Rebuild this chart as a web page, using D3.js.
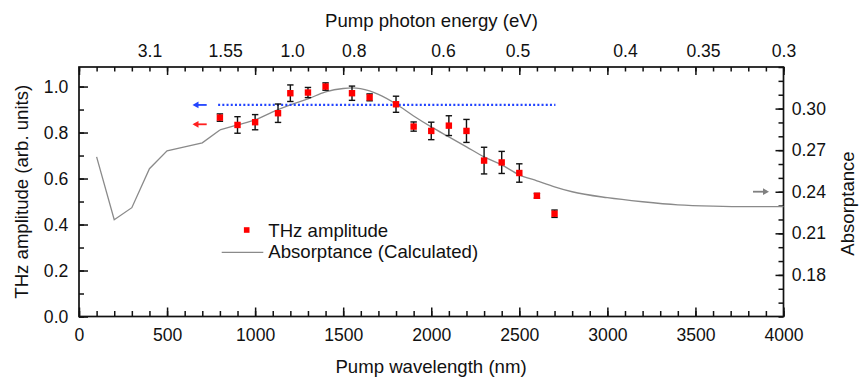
<!DOCTYPE html>
<html>
<head>
<meta charset="utf-8">
<script src="https://cdn.jsdelivr.net/npm/d3@7"></script>
<style>
  html, body { margin: 0; padding: 0; background: #fff; }
  svg { display: block; font-family: "Liberation Sans", Arial, sans-serif; }
  .tick text { fill: #111; }
</style>
</head>
<body>
<svg id="chart" width="859" height="377"></svg>
<script>
// THz amplitude measurements (left axis) with error bars
const wavelengths = [800, 900, 1000, 1130, 1200, 1300, 1400, 1550, 1650, 1800, 1900, 2000, 2100, 2200, 2300, 2400, 2500, 2600, 2700];
const amplitude   = [0.865, 0.833, 0.845, 0.884, 0.971, 0.974, 1.0, 0.971, 0.953, 0.923, 0.826, 0.807, 0.830, 0.807, 0.678, 0.670, 0.624, 0.525, 0.447];
const amplitudeErr = [0.016, 0.036, 0.033, 0.040, 0.036, 0.022, 0.016, 0.031, 0.015, 0.035, 0.020, 0.038, 0.043, 0.050, 0.058, 0.048, 0.040, 0.010, 0.016];

// Calculated absorptance (right axis)
const absWavelengths = [100, 200, 300, 400, 500, 600, 700, 800, 900, 1000, 1100, 1200, 1300, 1400, 1500, 1550, 1650, 1700, 1800, 1900, 2000, 2100, 2200, 2300, 2400, 2500, 2600, 2700, 2800, 3000, 3200, 3400, 3600, 3800, 4000];
const absorptance    = [0.2652, 0.2198, 0.2285, 0.2566, 0.2695, 0.2724, 0.2753, 0.2846, 0.2882, 0.2918, 0.2976, 0.3026, 0.3070, 0.3120, 0.3145, 0.3149, 0.3127, 0.3102, 0.3033, 0.2947, 0.2868, 0.2796, 0.2724, 0.2652, 0.2594, 0.2522, 0.2479, 0.2436, 0.2400, 0.2357, 0.2328, 0.2306, 0.2296, 0.2292, 0.2292];
// Short-wavelength part is drawn as straight segments, the rest smoothed
const absSmoothFrom = 800;

// Reference level (dotted blue) on the left axis
const refLevel = 0.92;
const refRange = [790, 2705];

// Axis ticks and labels
const xMajorTicks = [0, 500, 1000, 1500, 2000, 2500, 3000, 3500, 4000];
const xMinorTicks = d3.range(0, 4001, 100);
const yLeftMajor = [0, 0.2, 0.4, 0.6, 0.8, 1.0];
const yLeftMinor = d3.range(0, 1.09, 0.1);
const yRightMajor = [0.18, 0.21, 0.24, 0.27, 0.30];
const yRightMinor = d3.range(0.15, 0.3301, 0.01);
const energyLabels = ["3.1", "1.55", "1.0", "0.8", "0.6", "0.5", "0.4", "0.35", "0.3"];
const energyLabelWavelengths = [400, 830, 1210, 1560, 2067, 2490, 3100, 3543, 4000];

const svg = d3.select("#chart");
const L = 79, R = 783.5, T = 67, B = 316.5;

const x = d3.scaleLinear().domain([0, 4000]).range([L, R]);
const yL = d3.scaleLinear().domain([0, 1.085]).range([B, T]);
const yR = d3.scaleLinear().domain([0.15, 0.33]).range([B, T]);

const tickFont = "17.6px";
const titleFont = "18.6px";

function styleAxis(g) {
  g.select(".domain").remove();
  g.selectAll(".tick line").attr("stroke", "#111").attr("stroke-width", 1.5);
  g.selectAll(".tick text").style("font-size", tickFont);
}

// Bottom axis
svg.append("g").attr("transform", `translate(0,${B})`)
  .call(d3.axisBottom(x).tickValues(xMinorTicks).tickFormat("").tickSize(-5.5).tickSizeOuter(0)).call(styleAxis);
svg.append("g").attr("transform", `translate(0,${B})`)
  .call(d3.axisBottom(x).tickValues(xMajorTicks).tickFormat(d3.format("d")).tickSize(-9).tickPadding(12.5).tickSizeOuter(0)).call(styleAxis);

// Top axis: ticks mirror the wavelength axis, labels give photon energy
svg.append("g").attr("transform", `translate(0,${T})`)
  .call(d3.axisTop(x).tickValues(xMinorTicks).tickFormat("").tickSize(-4.5).tickSizeOuter(0)).call(styleAxis);
svg.append("g").attr("transform", `translate(0,${T})`)
  .call(d3.axisTop(x).tickValues(xMajorTicks).tickFormat("").tickSize(-8).tickSizeOuter(0)).call(styleAxis);
svg.append("g").attr("transform", `translate(0,${T})`)
  .call(d3.axisTop(x).tickValues(energyLabelWavelengths)
    .tickFormat((d, i) => energyLabels[i]).tickSize(0).tickPadding(9.7).tickSizeOuter(0))
  .call(styleAxis);

// Left axis
svg.append("g").attr("transform", `translate(${L},0)`)
  .call(d3.axisLeft(yL).tickValues(yLeftMinor).tickFormat("").tickSize(-5).tickSizeOuter(0)).call(styleAxis);
svg.append("g").attr("transform", `translate(${L},0)`)
  .call(d3.axisLeft(yL).tickValues(yLeftMajor).tickFormat(d3.format(".1f")).tickSize(-9).tickPadding(10.7).tickSizeOuter(0)).call(styleAxis);

// Right axis
svg.append("g").attr("transform", `translate(${R},0)`)
  .call(d3.axisRight(yR).tickValues(yRightMinor).tickFormat("").tickSize(-5).tickSizeOuter(0)).call(styleAxis);
svg.append("g").attr("transform", `translate(${R},0)`)
  .call(d3.axisRight(yR).tickValues(yRightMajor).tickFormat(d3.format(".2f")).tickSize(-8).tickPadding(8.2).tickSizeOuter(0)).call(styleAxis);

// Frame
svg.append("rect").attr("x", L).attr("y", T).attr("width", R - L).attr("height", B - T)
  .attr("fill", "none").attr("stroke", "#111").attr("stroke-width", 1.7);

// Absorptance curve
const absData = absWavelengths.map((w, i) => [w, absorptance[i]]);
const absLine = d3.line().x(d => x(d[0])).y(d => yR(d[1]));
const absG = svg.append("g").attr("fill", "none").attr("stroke", "#8a8a8a").attr("stroke-width", 1.3);
absG.append("path").datum(absData.filter(d => d[0] <= absSmoothFrom))
  .attr("d", absLine.curve(d3.curveLinear));
absG.append("path").datum(absData.filter(d => d[0] >= absSmoothFrom))
  .attr("d", absLine.curve(d3.curveMonotoneX));

// Dotted reference line
svg.append("line")
  .attr("x1", x(refRange[0])).attr("x2", x(refRange[1]))
  .attr("y1", yL(refLevel)).attr("y2", yL(refLevel))
  .attr("stroke", "#2244ff").attr("stroke-width", 2.2).attr("stroke-dasharray", "2,2.2");

// Error bars
const pts = wavelengths.map((w, i) => ({ w, v: amplitude[i], e: amplitudeErr[i] }));
const eb = svg.append("g").attr("stroke", "#111").attr("stroke-width", 1.4);
pts.forEach(p => {
  const cx = x(p.w), y1 = yL(p.v + p.e), y2 = yL(p.v - p.e);
  eb.append("line").attr("x1", cx).attr("x2", cx).attr("y1", y1).attr("y2", y2);
  eb.append("line").attr("x1", cx - 3.2).attr("x2", cx + 3.2).attr("y1", y1).attr("y2", y1);
  eb.append("line").attr("x1", cx - 3.2).attr("x2", cx + 3.2).attr("y1", y2).attr("y2", y2);
});

// THz amplitude markers
const sq = 6.4;
svg.append("g").selectAll("rect").data(pts).join("rect")
  .attr("x", d => x(d.w) - sq / 2).attr("y", d => yL(d.v) - sq / 2)
  .attr("width", sq).attr("height", sq).attr("fill", "#ff0000");

// Axis-indicator arrows
function arrow(x1, x2, y, color) {
  const dir = Math.sign(x2 - x1);
  svg.append("line").attr("x1", x1).attr("x2", x2 - dir * 2).attr("y1", y).attr("y2", y)
    .attr("stroke", color).attr("stroke-width", 1.8);
  svg.append("path")
    .attr("d", `M${x2},${y} L${x2 - dir * 6},${y - 3.4} L${x2 - dir * 6},${y + 3.4} Z`)
    .attr("fill", color);
}
arrow(206.7, 192.5, yL(refLevel), "#2244ff");
arrow(206.7, 192.5, 124.3, "#ff2020");
arrow(753, 769, 191.7, "#808080");

// Legend
const lg = svg.append("g").style("font-size", titleFont).attr("fill", "#111");
lg.append("rect").attr("x", 246.7 - 2.8).attr("y", 230 - 2.8).attr("width", 5.6).attr("height", 5.6).attr("fill", "#ff0000");
lg.append("text").attr("x", 268.3).attr("y", 236.7).text("THz amplitude");
lg.append("line").attr("x1", 221.7).attr("x2", 263.3).attr("y1", 252.3).attr("y2", 252.3)
  .attr("stroke", "#8a8a8a").attr("stroke-width", 1.3);
lg.append("text").attr("x", 268.3).attr("y", 258).text("Absorptance (Calculated)");

// Axis titles
svg.append("text").attr("x", 431).attr("y", 373).attr("text-anchor", "middle")
  .style("font-size", titleFont).attr("fill", "#111").text("Pump wavelength (nm)");
svg.append("text").attr("x", 431.5).attr("y", 26.7).attr("text-anchor", "middle")
  .style("font-size", titleFont).attr("fill", "#111").text("Pump photon energy (eV)");
svg.append("text").attr("transform", `translate(28.3,${(T + B) / 2}) rotate(-90)`).attr("text-anchor", "middle")
  .style("font-size", titleFont).attr("fill", "#111").text("THz amplitude (arb. units)");
svg.append("text").attr("transform", `translate(853.5,203.5) rotate(-90)`).attr("text-anchor", "middle")
  .style("font-size", titleFont).attr("fill", "#111").text("Absorptance");
</script>
</body>
</html>
